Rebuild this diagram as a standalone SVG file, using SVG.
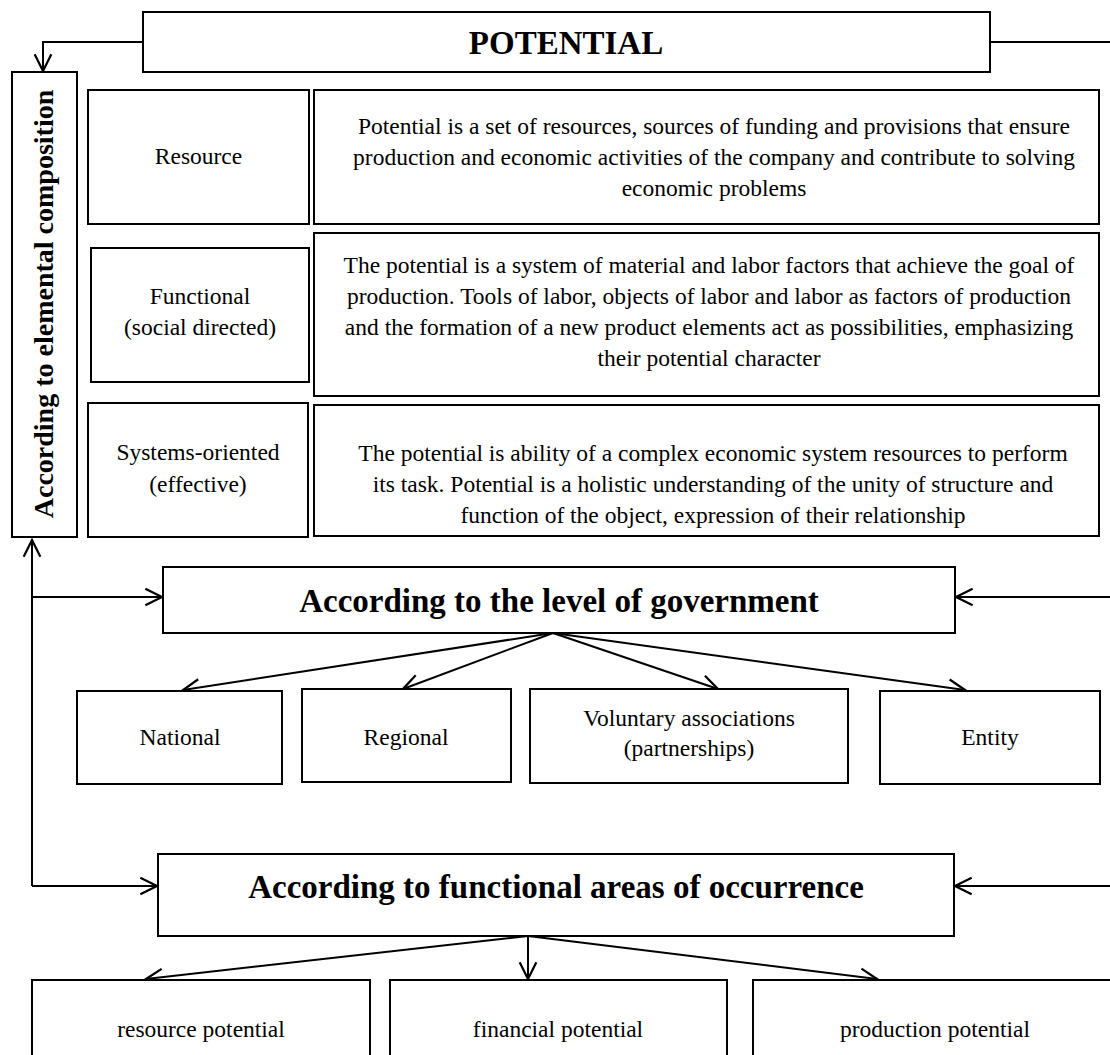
<svg xmlns="http://www.w3.org/2000/svg" width="1110" height="1055" viewBox="0 0 1110 1055">
<style>
.box{fill:#fff;stroke:#000;stroke-width:2}
.t{font-family:"Liberation Serif","Times New Roman",serif;font-size:23.5px;fill:#000;text-anchor:middle}
.h{font-family:"Liberation Serif","Times New Roman",serif;font-size:33px;font-weight:bold;fill:#000;text-anchor:middle}
.v{font-family:"Liberation Serif","Times New Roman",serif;font-size:28px;font-weight:bold;fill:#000;text-anchor:middle}
.c{fill:none;stroke:#000;stroke-width:2}
</style>
<defs>
<marker id="arr" markerUnits="userSpaceOnUse" markerWidth="20" markerHeight="20" viewBox="0 0 18 18" refX="16" refY="9" orient="auto">
<path d="M1,1.5 L16,9 L1,16.5" fill="none" stroke="#000" stroke-width="2"/>
</marker>
</defs>
<rect width="1110" height="1055" fill="#fff"/>
<g id="connectors">
<polyline class="c" points="143,42 43,42 43,71" marker-end="url(#arr)"/>
<line class="c" x1="990" y1="42" x2="1112" y2="42"/>
<polyline class="c" points="32,886 32,540" marker-end="url(#arr)"/>
<line class="c" x1="32" y1="886" x2="157" y2="886" marker-end="url(#arr)"/>
<line class="c" x1="32" y1="597" x2="162" y2="597" marker-end="url(#arr)"/>
<line class="c" x1="1112" y1="597" x2="956" y2="597" marker-end="url(#arr)"/>
<line class="c" x1="1112" y1="886" x2="955" y2="886" marker-end="url(#arr)"/>
<line class="c" x1="553" y1="633" x2="183" y2="690" marker-end="url(#arr)"/>
<line class="c" x1="553" y1="633" x2="403" y2="689" marker-end="url(#arr)"/>
<line class="c" x1="553" y1="633" x2="718" y2="689" marker-end="url(#arr)"/>
<line class="c" x1="553" y1="633" x2="965" y2="690" marker-end="url(#arr)"/>
<line class="c" x1="528" y1="936" x2="146" y2="979" marker-end="url(#arr)"/>
<line class="c" x1="528" y1="936" x2="528" y2="979" marker-end="url(#arr)"/>
<line class="c" x1="528" y1="936" x2="877" y2="979" marker-end="url(#arr)"/>
</g>
<g id="potential">
<rect class="box" x="143" y="12" width="847" height="60"/>
<text class="h" x="566" y="54">POTENTIAL</text>
</g>
<g id="elemental">
<rect class="box" x="12" y="72" width="65" height="465"/>
<text class="v" transform="translate(53,304) rotate(-90)">According to elemental composition</text>
</g>
<g id="resource">
<rect class="box" x="88" y="90" width="221" height="134"/>
<text class="t" x="198.5" y="164">Resource</text>
</g>
<g id="resource-desc">
<rect class="box" x="314" y="90" width="785" height="134"/>
<text class="t" x="714" y="134">Potential is a set of resources, sources of funding and provisions that ensure</text>
<text class="t" x="714" y="165">production and economic activities of the company and contribute to solving</text>
<text class="t" x="714" y="196">economic problems</text>
</g>
<g id="functional">
<rect class="box" x="91" y="248" width="218" height="134"/>
<text class="t" x="200" y="304">Functional</text>
<text class="t" x="200" y="335">(social directed)</text>
</g>
<g id="functional-desc">
<rect class="box" x="314" y="233" width="785" height="163"/>
<text class="t" x="709" y="273">The potential is a system of material and labor factors that achieve the goal of</text>
<text class="t" x="709" y="304">production. Tools of labor, objects of labor and labor as factors of production</text>
<text class="t" x="709" y="335">and the formation of a new product elements act as possibilities, emphasizing</text>
<text class="t" x="709" y="366">their potential character</text>
</g>
<g id="systems">
<rect class="box" x="88" y="403" width="220" height="134"/>
<text class="t" x="198" y="460">Systems-oriented</text>
<text class="t" x="198" y="492">(effective)</text>
</g>
<g id="systems-desc">
<rect class="box" x="314" y="405" width="785" height="131"/>
<text class="t" x="713" y="461">The potential is ability of a complex economic system resources to perform</text>
<text class="t" x="713" y="492">its task. Potential is a holistic understanding of the unity of structure and</text>
<text class="t" x="713" y="523">function of the object, expression of their relationship</text>
</g>
<g id="government">
<rect class="box" x="163" y="567" width="792" height="66"/>
<text class="h" x="559" y="612">According to the level of government</text>
</g>
<g id="national">
<rect class="box" x="77" y="691" width="205" height="93"/>
<text class="t" x="180" y="745">National</text>
</g>
<g id="regional">
<rect class="box" x="302" y="689" width="209" height="93"/>
<text class="t" x="406" y="745">Regional</text>
</g>
<g id="voluntary">
<rect class="box" x="530" y="689" width="318" height="94"/>
<text class="t" x="689" y="726">Voluntary associations</text>
<text class="t" x="689" y="756">(partnerships)</text>
</g>
<g id="entity">
<rect class="box" x="880" y="691" width="220" height="93"/>
<text class="t" x="990" y="745">Entity</text>
</g>
<g id="functional-areas">
<rect class="box" x="158" y="854" width="796" height="82"/>
<text class="h" x="556" y="898">According to functional areas of occurrence</text>
</g>
<g id="resource-potential">
<rect class="box" x="32" y="980" width="338" height="90"/>
<text class="t" x="201" y="1037">resource potential</text>
</g>
<g id="financial-potential">
<rect class="box" x="390" y="980" width="337" height="90"/>
<text class="t" x="558" y="1037">financial potential</text>
</g>
<g id="production-potential">
<rect class="box" x="753" y="980" width="364" height="90"/>
<text class="t" x="935" y="1037">production potential</text>
</g>
</svg>
